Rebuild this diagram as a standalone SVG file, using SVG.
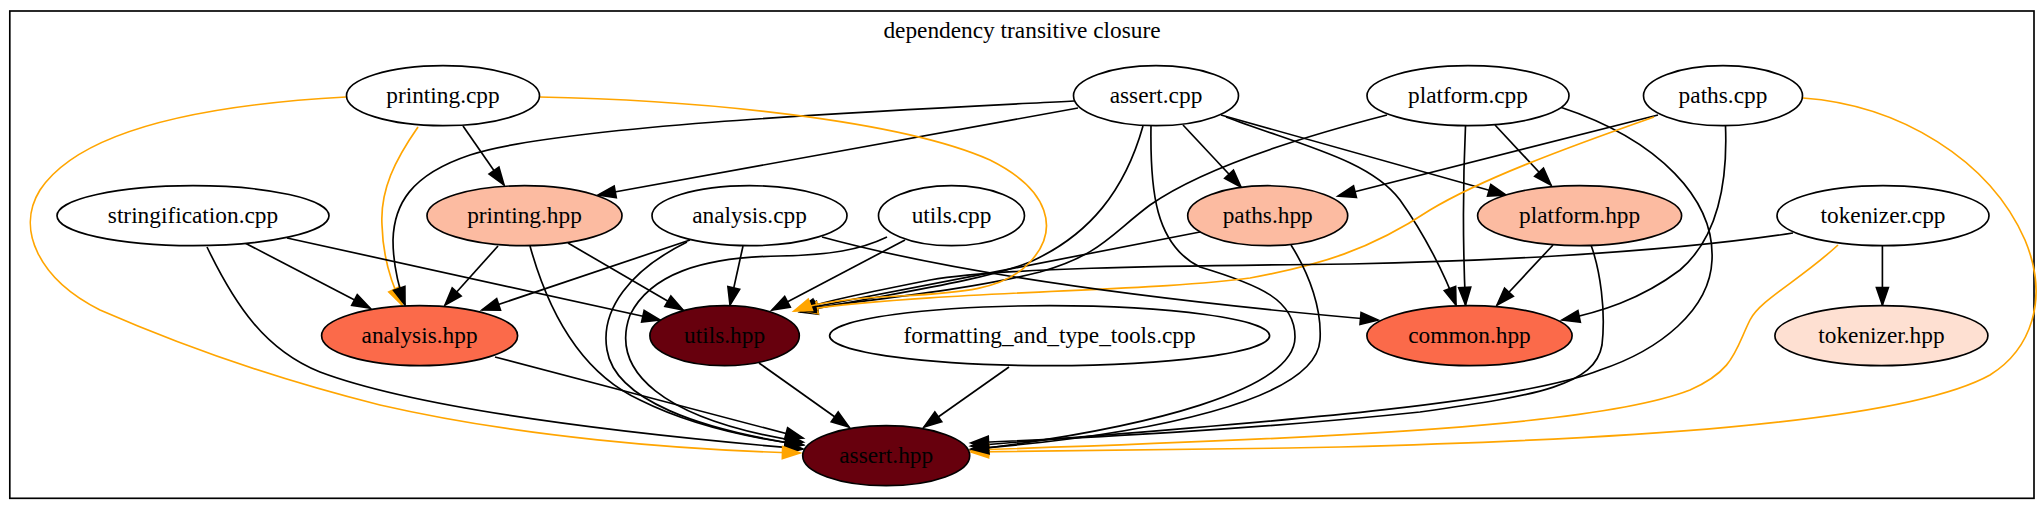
<svg xmlns="http://www.w3.org/2000/svg" width="2043" height="512" viewBox="0 0 2043 512">
<style>
.n ellipse{stroke:#000;stroke-width:1.67;fill:#fff}
text{font-family:"Liberation Serif","Times New Roman",serif;font-size:23.33px;text-anchor:middle;fill:#000}
.e path{fill:none;stroke:#000;stroke-width:1.67;marker-end:url(#ab)}
.e path.o{stroke:#ffa500;marker-end:url(#ao)}
.c3{fill:#fcbba1 !important}
.c5{fill:#fb6a4a !important}
.c9{fill:#67000d !important}
.c2{fill:#fee0d2 !important}
</style>
<defs>
<marker id="ab" markerUnits="userSpaceOnUse" markerWidth="20" markerHeight="14" refX="17.5" refY="6" orient="auto" overflow="visible"><path d="M0,0 L17.5,6 L0,12 z" fill="#000" stroke="#000" stroke-width="1.67"/></marker>
<marker id="ao" markerUnits="userSpaceOnUse" markerWidth="20" markerHeight="14" refX="17.5" refY="6" orient="auto" overflow="visible"><path d="M0,0 L17.5,6 L0,12 z" fill="#ffa500" stroke="#ffa500" stroke-width="1.67"/></marker>
</defs>
<rect width="2043" height="512" fill="#fff"/>
<g id="cluster">
<rect x="9.8" y="11" width="2024.2" height="487.3" fill="none" stroke="#000" stroke-width="1.67"/>
<text x="1022" y="37.5">dependency transitive closure</text>
</g>
<g id="edges" class="e">
<path d="M463,126 L504,185"/>
<path class="o" d="M418,127 C395,160 380,190 382,225 C383,260 392,285 402,305"/>
<path d="M1074,101 C900,110 560,125 470,155 C410,175 394,205 393,240 C393,265 398,285 405,305"/>
<path d="M1078,108 L598,195"/>
<path d="M1143,126 C1125,190 1090,235 1030,262 C980,282 880,295 800,312"/>
<path d="M1151,126 C1150,190 1155,245 1200,267 C1260,285 1295,300 1295,337 C1295,390 1150,428 971,450"/>
<path d="M1183,125 L1241,187"/>
<path d="M1221,115 L1506,195"/>
<path d="M1226,117 C1300,145 1370,160 1400,200 C1425,235 1445,275 1456,305"/>
<path d="M1387,115 C1290,140 1200,170 1150,205 C1110,235 1100,255 1040,272 C960,292 860,300 800,310"/>
<path d="M1495,125 L1551,185"/>
<path d="M1465.5,126 C1463,180 1463,250 1465.5,305"/>
<path d="M1560,107 C1660,140 1715,200 1712,260 C1710,310 1660,350 1600,370 C1500,410 1150,430 971,446"/>
<path d="M1553,245 L1497,305"/>
<path d="M1591,245 C1600,270 1606,310 1602,345 C1595,385 1540,395 1420,412 C1250,430 1080,438 971,443"/>
<path d="M1658,115 L1338,196"/>
<path class="o" d="M1654,117 C1560,150 1480,180 1430,210 C1370,250 1320,265 1250,278 C1150,292 950,290 800,310"/>
<path d="M1725.5,126 C1728,190 1715,240 1680,270 C1640,300 1600,312 1562,320"/>
<path class="o" d="M1803,98 C1900,105 1990,160 2025,240 C2050,300 2030,350 1990,375 C1900,425 1600,440 1340,447 C1200,450 1050,451 971,452"/>
<path d="M1882.4,245 L1882.4,305"/>
<path d="M1793,233 C1650,255 1450,262 1350,264 C1150,266 1000,268 930,280 C870,292 830,300 798,310"/>
<path class="o" d="M1838,245 C1800,280 1760,300 1750,320 C1735,350 1735,370 1690,390 C1600,425 1350,438 971,450"/>
<path d="M245,243 L370,308"/>
<path d="M287,238 L660,320"/>
<path d="M207,247 C235,305 265,350 320,372 C400,402 560,428 803,449"/>
<path d="M498,246 L445,305"/>
<path d="M568,243 L683,310"/>
<path d="M530,246 C545,300 575,370 640,400 C690,425 750,438 803,445"/>
<path d="M690,240 L482,310"/>
<path d="M743,246 L730,305"/>
<path d="M822,237 C950,272 1150,300 1378,320"/>
<path d="M687,242 C630,270 600,310 607,350 C615,400 700,430 803,445"/>
<path d="M905,240 L772,310"/>
<path d="M887,237 C860,250 830,255 780,256 C700,257 650,275 630,315 C610,370 660,420 803,442"/>
<path d="M1200,232 C1100,252 900,290 798,310"/>
<path d="M1291,245 C1310,275 1322,310 1320,340 C1316,400 1150,435 971,449"/>
<path d="M495,357 L803,438"/>
<path d="M759,363 L849,427"/>
<path d="M1009,367 L924,427"/>
<path class="o" d="M539,97 C700,100 900,120 990,160 C1050,190 1060,230 1030,262 C1005,290 960,293 900,296 C850,298 815,303 794,311"/>
<path class="o" d="M346,97 C200,105 80,130 40,190 C15,230 40,280 100,310 C180,345 280,380 380,405 C520,437 680,450 800,453"/>
</g>
<g id="printing_cpp" class="n"><ellipse cx="443" cy="95.7" rx="96.5" ry="30"/><text x="443" y="103">printing.cpp</text></g>
<g id="assert_cpp" class="n"><ellipse cx="1156" cy="95.7" rx="82.5" ry="30"/><text x="1156" y="103">assert.cpp</text></g>
<g id="platform_cpp" class="n"><ellipse cx="1468" cy="95.7" rx="101" ry="30"/><text x="1468" y="103">platform.cpp</text></g>
<g id="paths_cpp" class="n"><ellipse cx="1723" cy="95.7" rx="79.5" ry="30"/><text x="1723" y="103">paths.cpp</text></g>
<g id="stringification_cpp" class="n"><ellipse cx="193" cy="215.7" rx="136" ry="30"/><text x="193" y="223">stringification.cpp</text></g>
<g id="printing_hpp" class="n"><ellipse class="c3" cx="524.5" cy="215.7" rx="97.5" ry="30"/><text x="524.5" y="223">printing.hpp</text></g>
<g id="analysis_cpp" class="n"><ellipse cx="749.5" cy="215.7" rx="97.5" ry="30"/><text x="749.5" y="223">analysis.cpp</text></g>
<g id="utils_cpp" class="n"><ellipse cx="951.5" cy="215.7" rx="73" ry="30"/><text x="951.5" y="223">utils.cpp</text></g>
<g id="paths_hpp" class="n"><ellipse class="c3" cx="1267.7" cy="215.7" rx="80" ry="30"/><text x="1267.7" y="223">paths.hpp</text></g>
<g id="platform_hpp" class="n"><ellipse class="c3" cx="1579.6" cy="215.7" rx="102" ry="30"/><text x="1579.6" y="223">platform.hpp</text></g>
<g id="tokenizer_cpp" class="n"><ellipse cx="1883" cy="215.7" rx="106" ry="30"/><text x="1883" y="223">tokenizer.cpp</text></g>
<g id="analysis_hpp" class="n"><ellipse class="c5" cx="419.6" cy="335.7" rx="98" ry="30"/><text x="419.6" y="343">analysis.hpp</text></g>
<g id="utils_hpp" class="n"><ellipse class="c9" cx="724.6" cy="335.7" rx="74.7" ry="30"/><text x="724.6" y="343">utils.hpp</text></g>
<g id="formatting_and_type_tools_cpp" class="n"><ellipse cx="1049.6" cy="335.7" rx="220" ry="30"/><text x="1049.6" y="343">formatting_and_type_tools.cpp</text></g>
<g id="common_hpp" class="n"><ellipse class="c5" cx="1469.5" cy="335.7" rx="102.6" ry="30"/><text x="1469.5" y="343">common.hpp</text></g>
<g id="tokenizer_hpp" class="n"><ellipse class="c2" cx="1881.4" cy="335.7" rx="106.5" ry="30"/><text x="1881.4" y="343">tokenizer.hpp</text></g>
<g id="assert_hpp" class="n"><ellipse class="c9" cx="886.2" cy="455.7" rx="83.5" ry="30"/><text x="886.2" y="463">assert.hpp</text></g>
</svg>
